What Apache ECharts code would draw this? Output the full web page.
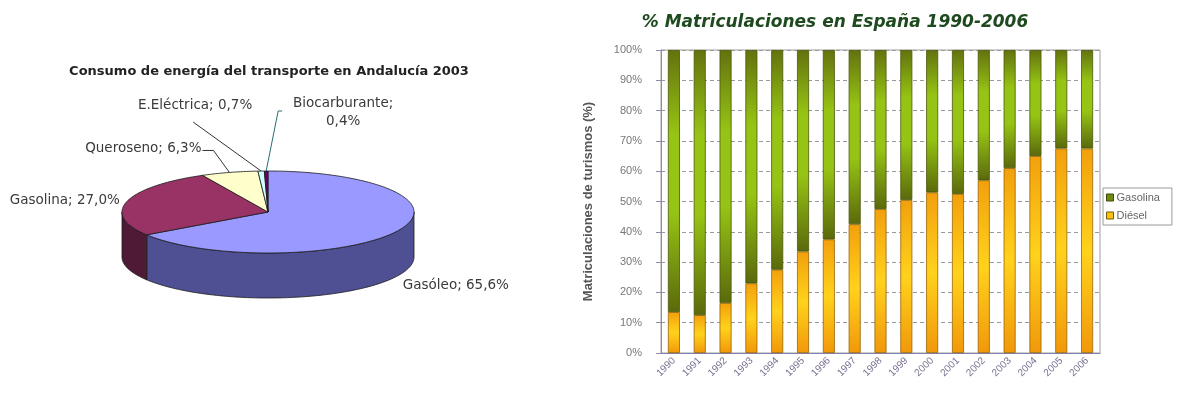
<!DOCTYPE html>
<html>
<head>
<meta charset="utf-8">
<script src="https://cdn.jsdelivr.net/npm/echarts@6/dist/echarts.min.js"></script>
<style>
html,body{margin:0;padding:0;background:#fff;}
#main{width:1177px;height:403px;}
</style>
</head>
<body>
<div id="main"></div>
<script>
// ---------- data ----------
const pieCategories = ['Gasóleo', 'Gasolina', 'Queroseno', 'E.Eléctrica', 'Biocarburante'];
const pieValues = [65.6, 27.0, 6.3, 0.7, 0.4];
const pieLabelTexts = ['Gasóleo; 65,6%', 'Gasolina; 27,0%', 'Queroseno; 6,3%', 'E.Eléctrica; 0,7%', 'Biocarburante;\n0,4%'];

const years = ['1990','1991','1992','1993','1994','1995','1996','1997','1998','1999','2000','2001','2002','2003','2004','2005','2006'];
const dieselValues   = [13.5, 12.5, 16.5, 23.0, 27.5, 33.5, 37.5, 42.5, 47.5, 50.5, 53.0, 52.5, 57.0, 61.0, 65.0, 67.5, 67.5];
const gasolinaValues = [86.5, 87.5, 83.5, 77.0, 72.5, 66.5, 62.5, 57.5, 52.5, 49.5, 47.0, 47.5, 43.0, 39.0, 35.0, 32.5, 32.5];

// ---------- styling / layout ----------
const pieTopColors  = ['#9999ff', '#993366', '#ffffcc', '#ccffff', '#660066'];
const pieSideColors = ['#4f4f94', '#4e1a36', '#99997a', '#7a9999', '#330033'];
const pieGeom = { cx: 268, cy: 212, rx: 146, ry: 41, depth: 45 };
// label placement relative to the slice anchor (mid-angle point on the rim)
const pieLabelLayout = [
  { dx: 6,   dy: 54,  align: 'left',   leader: null },
  { dx: -7,  dy: -1,  align: 'right',  leader: null },
  { dx: -28, dy: -24, align: 'right',  leader: [[-16, -22], [-27, -22]] },
  { dx: -66, dy: -66, align: 'center', leader: [[-68, -49]] },
  { dx: 77,  dy: -59, align: 'center', leader: [[12, -60], [16, -60]] }
];

const total = pieValues.reduce((a, b) => a + b, 0);
const cumStart = [];
(function () { let c = 0; pieValues.forEach(v => { cumStart.push(c); c += v; }); })();

function ang(frac) { return -Math.PI / 2 + frac * 2 * Math.PI; }
function rimPt(a, dy) {
  return [pieGeom.cx + pieGeom.rx * Math.cos(a), pieGeom.cy + pieGeom.ry * Math.sin(a) + (dy || 0)];
}

function renderPie(params, api) {
  const i = params.dataIndex;
  const v = api.value(0);
  const a0 = ang(cumStart[i] / total);
  const a1 = ang((cumStart[i] + v) / total);
  const children = [];
  const N = Math.max(2, Math.ceil((a1 - a0) / 0.02));
  const s = Math.max(a0, 0), e = Math.min(a1, Math.PI);
  if (e > s) {
    const pts = [];
    const M = Math.max(2, Math.ceil((e - s) / 0.02));
    for (let k = 0; k <= M; k++) pts.push(rimPt(s + (e - s) * k / M));
    for (let k = M; k >= 0; k--) pts.push(rimPt(s + (e - s) * k / M, pieGeom.depth));
    children.push({
      type: 'polygon', z2: 1,
      shape: { points: pts },
      style: { fill: pieSideColors[i], stroke: '#1a1a1a', lineWidth: 0.8 }
    });
  }
  const top = [[pieGeom.cx, pieGeom.cy]];
  for (let k = 0; k <= N; k++) top.push(rimPt(a0 + (a1 - a0) * k / N));
  children.push({
    type: 'polygon', z2: 2,
    shape: { points: top },
    style: { fill: pieTopColors[i], stroke: '#1a1a1a', lineWidth: 0.8 }
  });
  const am = (a0 + a1) / 2;
  const anchor = rimPt(am);
  const L = pieLabelLayout[i];
  if (L.leader) {
    const pts = [anchor].concat(L.leader.map(p => [anchor[0] + p[0], anchor[1] + p[1]]));
    children.push({
      type: 'polyline', z2: 3,
      shape: { points: pts },
      style: { stroke: i === 4 ? '#2a6f6f' : '#333', lineWidth: 1, fill: null }
    });
  }
  children.push({
    type: 'text', z2: 4,
    x: anchor[0] + L.dx, y: anchor[1] + L.dy,
    style: {
      text: pieLabelTexts[i],
      fill: '#3a3a3a',
      font: '13.5px "DejaVu Sans"',
      align: L.align,
      verticalAlign: 'middle',
      lineHeight: 18
    }
  });
  return { type: 'group', children: children };
}

const gasolinaGrad = new echarts.graphic.LinearGradient(0, 0, 0, 1, [
  { offset: 0, color: '#63720e' },
  { offset: 0.32, color: '#96c414' },
  { offset: 0.62, color: '#96c414' },
  { offset: 1, color: '#5a690c' }
]);
const dieselGrad = new echarts.graphic.LinearGradient(0, 0, 0, 1, [
  { offset: 0, color: '#f2a00c' },
  { offset: 0.5, color: '#ffd21c' },
  { offset: 1, color: '#f1980a' }
]);

const chart = echarts.init(document.getElementById('main'), null, { renderer: 'canvas' });
chart.setOption({
  backgroundColor: '#ffffff',
  animation: false,
  title: [
    {
      text: 'Consumo de energía del transporte en Andalucía 2003',
      left: 264, top: 60, textAlign: 'center',
      textStyle: { fontFamily: 'DejaVu Sans', fontSize: 13, fontWeight: 'bold', color: '#222' }
    },
    {
      text: '% Matriculaciones en España 1990-2006',
      left: 830, top: 9, textAlign: 'center',
      textStyle: { fontFamily: 'DejaVu Sans', fontSize: 17, fontWeight: 'bold', fontStyle: 'italic', color: '#1f4a1f' }
    }
  ],
  legend: {
    orient: 'vertical',
    left: 1103, top: 188,
    itemWidth: 7, itemHeight: 7, itemGap: 7,
    padding: [4, 12, 4, 3],
    borderColor: '#9a9a9a', borderWidth: 1,
    icon: 'rect',
    textStyle: { fontFamily: 'Liberation Sans', fontSize: 11, color: '#666', padding: [0, 0, 0, -2] },
    data: [
      { name: 'Gasolina', itemStyle: { color: '#6f8a10', borderColor: '#3b4a06', borderWidth: 1 } },
      { name: 'Diésel', itemStyle: { color: '#f5c20e', borderColor: '#7a5a00', borderWidth: 1 } }
    ]
  },
  grid: {
    left: 661, right: 77, top: 50, bottom: 50,
    show: true, borderColor: '#a0a0a0', borderWidth: 1
  },
  xAxis: {
    type: 'category',
    data: years,
    boundaryGap: true,
    axisLine: { lineStyle: { color: '#7f7fb0', width: 1 } },
    axisTick: { interval: 0, length: 5, lineStyle: { color: '#7f7fb0' } },
    axisLabel: { interval: 0, rotate: 45, fontFamily: 'Liberation Sans', fontSize: 10, color: '#7a7090', margin: 6 }
  },
  yAxis: {
    type: 'value',
    min: 0, max: 100, interval: 10,
    name: 'Matriculaciones de turismos (%)',
    nameLocation: 'middle', nameRotate: 90, nameGap: 66,
    nameTextStyle: { fontFamily: 'Liberation Sans', fontSize: 13, fontWeight: 'bold', color: '#555' },
    axisLine: { show: true, lineStyle: { color: '#8c8cab', width: 1 } },
    axisTick: { show: true, length: 5, lineStyle: { color: '#8c8cab' } },
    axisLabel: { formatter: '{value}%', fontFamily: 'Liberation Sans', fontSize: 11, color: '#777', margin: 19 },
    splitLine: { show: true, lineStyle: { color: '#9a9a9a', type: [4, 3], width: 1 } }
  },
  series: [
    {
      name: 'Diésel', type: 'bar', stack: 'total', barWidth: 12,
      data: dieselValues,
      itemStyle: { color: dieselGrad, borderColor: '#9a6400', borderWidth: 0.8 }
    },
    {
      name: 'Gasolina', type: 'bar', stack: 'total', barWidth: 12,
      data: gasolinaValues,
      itemStyle: { color: gasolinaGrad, borderColor: '#4a5808', borderWidth: 0.8 }
    },
    {
      name: 'pie3d', type: 'custom', coordinateSystem: 'none',
      data: pieValues.map((v, i) => ({ name: pieCategories[i], value: [v] })),
      renderItem: renderPie,
      silent: true
    }
  ]
});
</script>
</body>
</html>
